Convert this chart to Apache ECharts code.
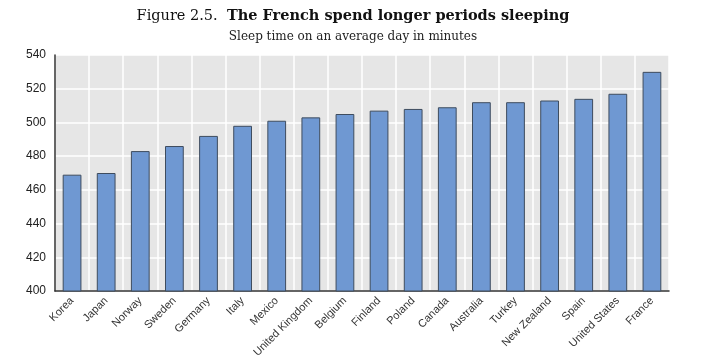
<!DOCTYPE html>
<html><head><meta charset="utf-8">
<script src="https://cdn.jsdelivr.net/npm/echarts@6/dist/echarts.min.js"></script>
<style>html,body{margin:0;padding:0;background:#fff}#c{width:714px;height:358px}</style>
</head><body><div id="c"></div>
<script>
const categories = ["Korea","Japan","Norway","Sweden","Germany","Italy","Mexico","United Kingdom","Belgium","Finland","Poland","Canada","Australia","Turkey","New Zealand","Spain","United States","France"];
const sleepMinutes = [469,470,483,486,492,498,501,503,505,507,508,509,512,512,513,514,517,530];
const yTicks = {min:400, max:540, interval:20};

const chart = echarts.init(document.getElementById('c'));
chart.setOption({
  animation:false,
  title:[{
    text:'{r|Figure 2.5.  }{b|The French spend longer periods sleeping}',
    left:348, top:4, textAlign:'center',
    textStyle:{fontWeight:'normal',rich:{
      r:{fontFamily:'DejaVu Serif',fontSize:14.5,fontWeight:'normal',color:'#111'},
      b:{fontFamily:'DejaVu Serif',fontSize:14.5,fontWeight:'bold',color:'#111'}
    }}
  },{
    text:'Sleep time on an average day in minutes',
    left:348, top:26, textAlign:'center',
    textStyle:{fontFamily:'DejaVu Serif',fontSize:12,fontWeight:'normal',color:'#222'}
  }],
  grid:{left:55,right:45,top:55,bottom:67,show:true,backgroundColor:'#e6e6e6',borderWidth:0,outerBoundsMode:'none',containLabel:false},
  xAxis:{
    type:'category', data:categories,
    axisLine:{lineStyle:{color:'#333',width:1.5}},
    axisTick:{show:false},
    splitLine:{show:true,lineStyle:{color:'#ffffff',width:1.5}},
    axisLabel:{rotate:45,interval:0,fontFamily:'Liberation Sans Narrow, Liberation Sans, sans-serif',fontSize:11,color:'#333',margin:8}
  },
  yAxis:{
    type:'value', min:yTicks.min, max:yTicks.max, interval:yTicks.interval,
    axisLine:{show:true,lineStyle:{color:'#333',width:1.5}},
    axisTick:{show:false},
    splitLine:{show:true,lineStyle:{color:'#ffffff',width:1.5}},
    axisLabel:{fontFamily:'Liberation Sans, sans-serif',fontSize:12,color:'#222',margin:9}
  },
  series:[{
    type:'bar', data:sleepMinutes, barWidth:'55%',
    itemStyle:{color:'#6f98d2',borderColor:'#3e4c5e',borderWidth:1}
  }]
});
</script></body></html>
